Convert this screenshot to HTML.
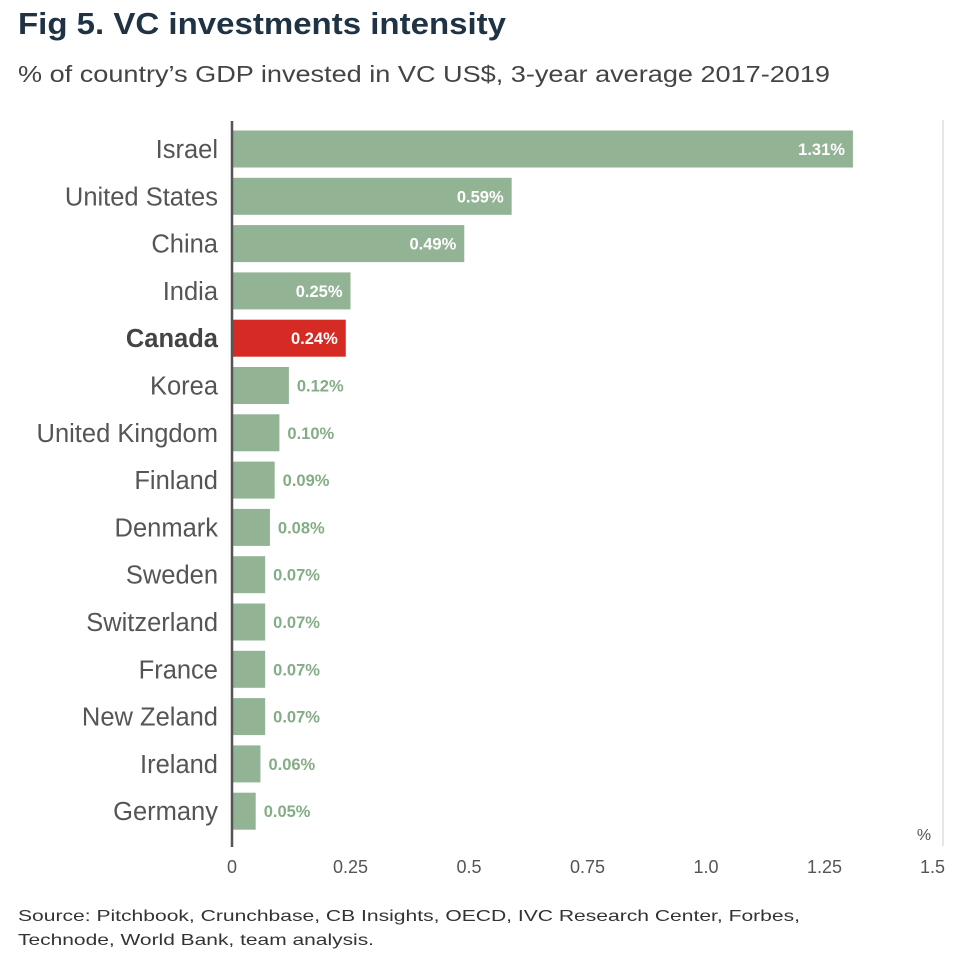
<!DOCTYPE html>
<html><head><meta charset="utf-8"><style>
body{margin:0;background:#fff;font-family:"Liberation Sans",sans-serif}
</style></head><body>
<svg width="960" height="960" viewBox="0 0 960 960" id="c" style="font-family:'Liberation Sans',sans-serif">
<text x="18" y="34" font-size="31" font-weight="bold" fill="#1f3345" textLength="488" lengthAdjust="spacingAndGlyphs">Fig 5. VC investments intensity</text>
<text x="18" y="82" font-size="23" fill="#444" textLength="812" lengthAdjust="spacingAndGlyphs">% of country’s GDP invested in VC US$, 3-year average 2017-2019</text>
<line x1="943" y1="120" x2="943" y2="846" stroke="#ddd" stroke-width="1.5"/>
<text x="924" y="840" font-size="16" fill="#555" text-anchor="middle">%</text>
<g id="bars"></g>
<g id="ticks"></g>
<line x1="232" y1="121" x2="232" y2="847" stroke="#555" stroke-width="2.5"/>
<text x="18" y="921" font-size="16" fill="#333" textLength="782" lengthAdjust="spacingAndGlyphs">Source: Pitchbook, Crunchbase, CB Insights, OECD, IVC Research Center, Forbes,</text>
<text x="18" y="945" font-size="16" fill="#333" textLength="356" lengthAdjust="spacingAndGlyphs">Technode, World Bank, team analysis.</text>
</svg>
<script>
const categories=["Israel","United States","China","India","Canada","Korea","United Kingdom","Finland","Denmark","Sweden","Switzerland","France","New Zeland","Ireland","Germany"];
const values=[1.31,0.59,0.49,0.25,0.24,0.12,0.10,0.09,0.08,0.07,0.07,0.07,0.07,0.06,0.05];
const valueLabels=["1.31%","0.59%","0.49%","0.25%","0.24%","0.12%","0.10%","0.09%","0.08%","0.07%","0.07%","0.07%","0.07%","0.06%","0.05%"];
const tickValues=[0,0.25,0.5,0.75,1.0,1.25,1.5];
const tickLabels=["0","0.25","0.5","0.75","1.0","1.25","1.5"];
const highlight="Canada";
const NS="http://www.w3.org/2000/svg";
const x=v=>232+v*474;
const y=i=>149+i*47.3;
const bh=37;
const bars=document.getElementById('bars');
function mk(tag,attrs,text){const e=document.createElementNS(NS,tag);for(const k in attrs)e.setAttribute(k,attrs[k]);if(text!==undefined)e.textContent=text;return e;}
categories.forEach((c,i)=>{
  const hl=c===highlight;
  const r=mk('rect',{x:x(0),y:y(i)-bh/2,width:x(values[i])-x(0),height:bh,fill:hl?'#d62a24':'#92b394'});
  
  
  bars.appendChild(r);
  const l=mk('text',{x:218,y:y(i)+9,'font-size':25.5,fill:hl?'#444':'#555','text-anchor':'end','font-weight':hl?'bold':'normal'},c);
  
  
  bars.appendChild(l);
  const inside=values[i]>=0.2;
  const v=mk('text',{x:inside?x(values[i])-8:x(values[i])+8,y:y(i)+6,'font-size':16.5,'font-weight':'bold',fill:inside?'#fff':'#84ad86','text-anchor':inside?'end':'start'},valueLabels[i]);
  
  
  bars.appendChild(v);
});
const ticks=document.getElementById('ticks');
tickValues.forEach((t,i)=>{
  const last=i===tickValues.length-1;
  const e=mk('text',{x:last?x(t)+2:x(t),y:873,'font-size':18,fill:'#555','text-anchor':last?'end':'middle'},tickLabels[i]);
  
  
  ticks.appendChild(e);
});
</script>
</body></html>
